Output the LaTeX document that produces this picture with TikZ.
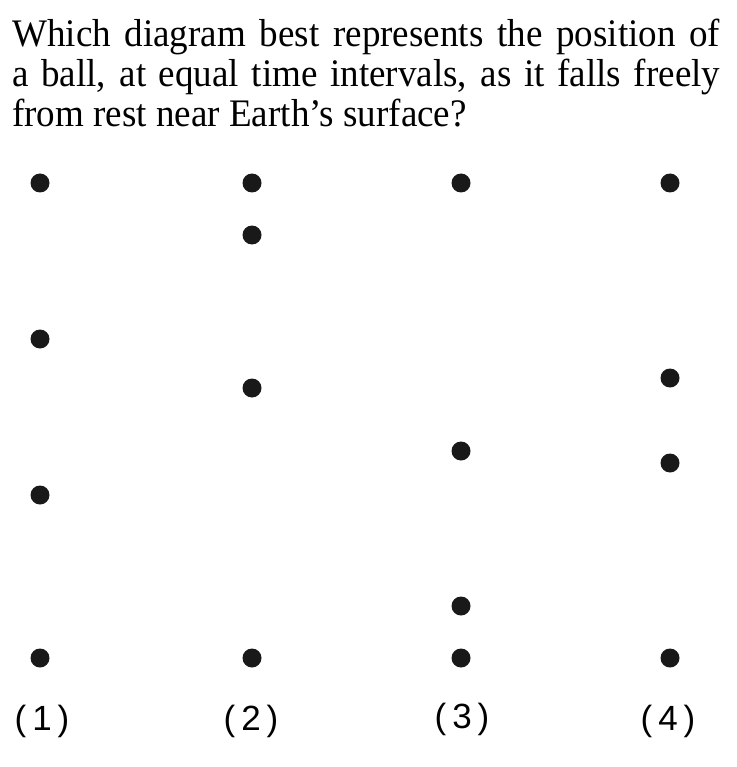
\documentclass[tikz,border=0pt]{standalone}
\usepackage{fontspec}
\setmainfont[FakeStretch=0.95]{Liberation Serif}
\newfontfamily\rotulofont{Liberation Sans}
\usetikzlibrary{positioning}

\begin{document}
\begin{tikzpicture}[
    x=1pt, y=-1pt,
    bola/.style={circle, fill=black!90, inner sep=0pt, minimum size=19pt},
    rotulo/.style={font=\rotulofont\fontsize{35}{35}\selectfont, inner sep=0pt},
    enunciado/.style={font=\fontsize{39}{40}\selectfont, text width=708pt, align=justify, inner sep=0pt}
]
    \useasboundingbox (0,0) rectangle (736,767);

    \node[enunciado, anchor=north west] (pergunta) at (12,19)
        {Which diagram best represents the position of\linebreak
         a ball, at equal time intervals, as it falls freely\linebreak
         from rest near Earth's surface?};

    % diagrama 1
    \foreach \y [count=\i] in {183,339,495,658}
        \node[bola] (um\i) at (40,\y) {};
    % diagrama 2
    \foreach \y [count=\i] in {183,235,388,658}
        \node[bola] (dois\i) at (252,\y) {};
    % diagrama 3
    \foreach \y [count=\i] in {183,451,606,658}
        \node[bola] (tres\i) at (461,\y) {};
    % diagrama 4
    \foreach \y [count=\i] in {183,378,463,658}
        \node[bola] (quatro\i) at (670,\y) {};

    \node[rotulo] (r1) at (42,721) {(\hspace{6pt}1\hspace{6pt})};
    \node[rotulo] (r2) at (251,721) {(\hspace{6pt}2\hspace{6pt})};
    \node[rotulo] (r3) at (462,719) {(\hspace{6pt}3\hspace{6pt})};
    \node[rotulo] (r4) at (668,721) {(\hspace{6pt}4\hspace{6pt})};
\end{tikzpicture}
\end{document}
